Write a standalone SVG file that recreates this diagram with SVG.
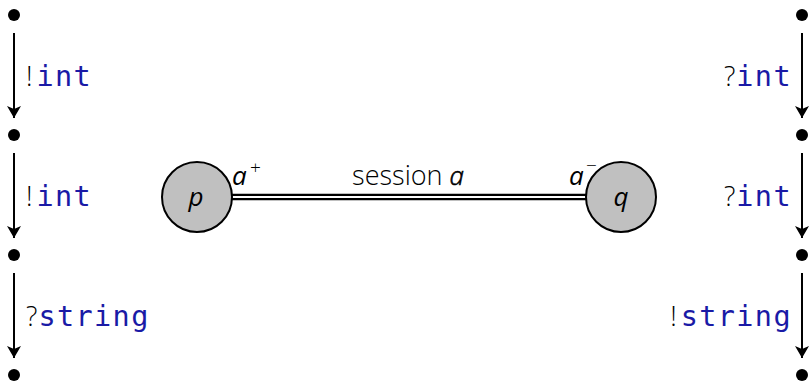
<svg xmlns="http://www.w3.org/2000/svg" width="810" height="385" viewBox="0 0 810 385">
<style>
.dot{fill:#000}
.lbl{font-family:"Open Sans","DejaVu Sans",sans-serif;font-weight:300;font-size:27px;fill:#000}
.mono{font-family:"DejaVu Sans Mono","Liberation Mono",monospace;font-weight:normal;font-size:28.5px;letter-spacing:1.4px;fill:#1a1aa6}
.it{font-family:"Open Sans","DejaVu Sans",sans-serif;font-style:italic;font-size:26px;fill:#000}
.sup{font-family:"Open Sans","DejaVu Sans",sans-serif;font-weight:300;font-size:19px;fill:#000}
.node{fill:#c0c0c0;stroke:#000;stroke-width:2}
</style>
<defs>
<marker id="ah2" viewBox="0 0 12 14" refX="12" refY="7" markerWidth="12" markerHeight="14" markerUnits="userSpaceOnUse" orient="auto">
<path d="M0,0 L12,7 L0,14 L3,7 Z" fill="#000"/>
</marker>
</defs>
<g id="connectors">
<g stroke="#000" stroke-width="2" fill="none" marker-end="url(#ah2)">
<line x1="14" y1="33" x2="14" y2="118"/>
<line x1="14" y1="153" x2="14" y2="238"/>
<line x1="14" y1="273" x2="14" y2="358"/>
<line x1="802" y1="33" x2="802" y2="118"/>
<line x1="802" y1="153" x2="802" y2="238"/>
<line x1="802" y1="273" x2="802" y2="358"/>
</g>
<g id="session">
<line x1="231" y1="197" x2="586" y2="197" stroke="#000" stroke-width="6.5"/>
<line x1="231" y1="197" x2="586" y2="197" stroke="#fff" stroke-width="2"/>
</g>
</g>
<g id="left-states">
<circle class="dot" cx="14" cy="15" r="6"/>
<circle class="dot" cx="14" cy="135" r="6"/>
<circle class="dot" cx="14" cy="255" r="6"/>
<circle class="dot" cx="14" cy="375" r="6"/>
</g>
<g id="right-states">
<circle class="dot" cx="802" cy="15" r="6"/>
<circle class="dot" cx="802" cy="135" r="6"/>
<circle class="dot" cx="802" cy="255" r="6"/>
<circle class="dot" cx="802" cy="375" r="6"/>
</g>
<g id="left-labels">
<text x="26" y="86" class="lbl">!<tspan class="mono" dx="4">int</tspan></text>
<text x="26" y="206" class="lbl">!<tspan class="mono" dx="4">int</tspan></text>
<text x="26" y="326" class="lbl">?<tspan class="mono" dx="1">string</tspan></text>
</g>
<g id="right-labels">
<text x="792" y="86" class="lbl" text-anchor="end">?<tspan class="mono" dx="1">int</tspan></text>
<text x="792" y="206" class="lbl" text-anchor="end">?<tspan class="mono" dx="1">int</tspan></text>
<text x="792" y="326" class="lbl" text-anchor="end">!<tspan class="mono" dx="4">string</tspan></text>
</g>
<g id="p">
<circle class="node" cx="197" cy="197" r="35"/>
<text x="196" y="206" class="it" text-anchor="middle">p</text>
<text x="232" y="185" class="it">a</text>
<text x="250" y="174" class="sup">+</text>
</g>
<g id="q">
<circle class="node" cx="621" cy="197" r="35"/>
<text x="621" y="206" class="it" text-anchor="middle">q</text>
<text x="569" y="185" class="it">a</text>
<text x="586" y="172" class="sup" font-size="16">−</text>
</g>
<g id="session-label">
<text x="408" y="185" class="lbl" font-size="28.5" text-anchor="middle">session <tspan class="it" font-size="27.5" stroke="#000" stroke-width="0.6">a</tspan></text>
</g>
</svg>
